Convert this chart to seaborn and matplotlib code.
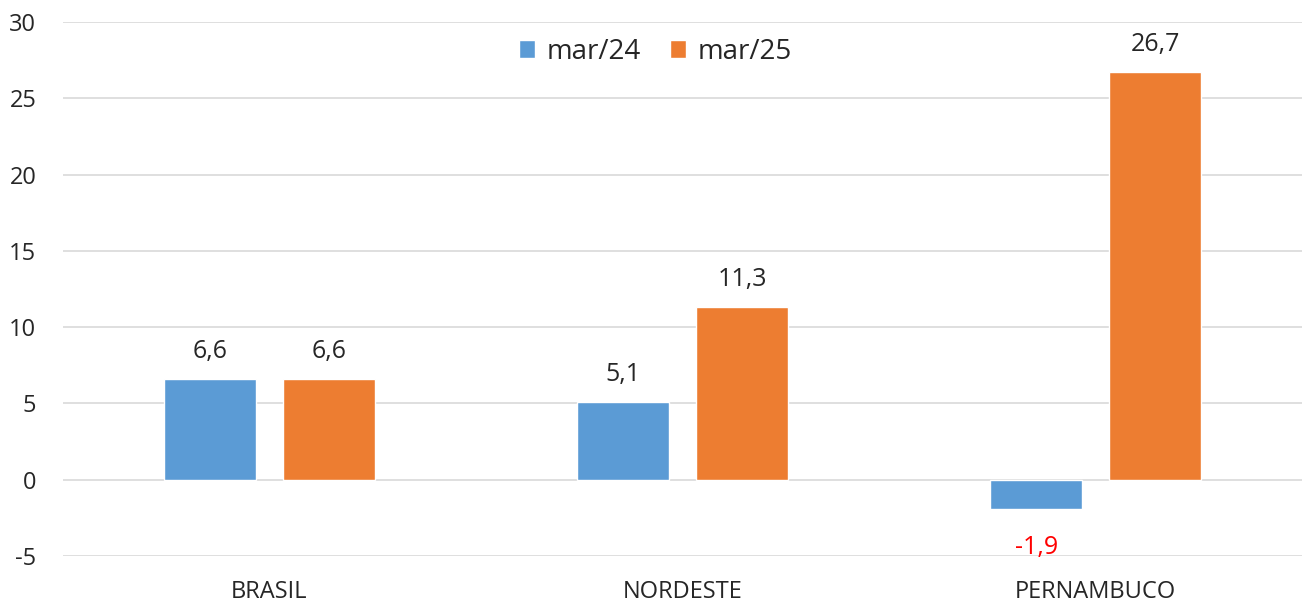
import matplotlib
matplotlib.use("Agg")
import matplotlib.pyplot as plt
import seaborn as sns
import pandas as pd

categories = ["BRASIL", "NORDESTE", "PERNAMBUCO"]
series_names = ["mar/24", "mar/25"]
values_mar24 = [6.6, 5.1, -1.9]
values_mar25 = [6.6, 11.3, 26.7]
yticks = [-5, 0, 5, 10, 15, 20, 25, 30]

colors = ["#5B9BD5", "#ED7D31"]

sns.set_theme(style="white")
plt.rcParams['font.family'] = ['Open Sans', 'DejaVu Sans']

df = pd.DataFrame({
    "cat": categories * 2,
    "serie": [series_names[0]] * 3 + [series_names[1]] * 3,
    "val": values_mar24 + values_mar25,
})

fig = plt.figure(figsize=(13.05, 6.11), dpi=100)
ax = fig.add_axes([0.048, 0.09, 0.950, 0.874])
sns.barplot(data=df, x="cat", y="val", hue="serie", order=categories,
            hue_order=series_names, palette=colors, width=0.576, gap=0.23,
            saturation=1, ax=ax, legend=True)

ax.set_ylim(-5, 30)
ax.set_xlim(-0.5, 2.5)
ax.set_yticks(yticks)
ax.set_yticklabels([str(t) for t in yticks])
ax.yaxis.grid(True, color="#D9D9D9", linewidth=1.2)
ax.set_axisbelow(True)
for s in ax.spines.values():
    s.set_visible(False)
ax.tick_params(axis="both", length=0, colors="#262626")
ax.tick_params(axis="y", pad=19, labelsize=17)
ax.tick_params(axis="x", pad=17, labelsize=17)
ax.set_xlabel("")
ax.set_ylabel("")

for cont in ax.containers:
    for bar in cont:
        h = bar.get_height()
        x = bar.get_x() + bar.get_width() / 2
        lbl = f"{h:.1f}".replace(".", ",")
        if h >= 0:
            ax.annotate(lbl, (x, h), xytext=(0, 11), textcoords="offset points",
                        ha="center", va="bottom", fontsize=18, color="#262626")
        else:
            ax.annotate(lbl, (x, h), xytext=(0, -19), textcoords="offset points",
                        ha="center", va="top", fontsize=18, color="#FF0000")

leg = ax.legend(loc="upper center", bbox_to_anchor=(0.478, 1.017), ncol=2,
                frameon=False, fontsize=20, handlelength=0.6, handleheight=0.6,
                columnspacing=1.05, handletextpad=0.4)
for t in leg.get_texts():
    t.set_color("#262626")

fig.savefig("out.png", dpi=100)
